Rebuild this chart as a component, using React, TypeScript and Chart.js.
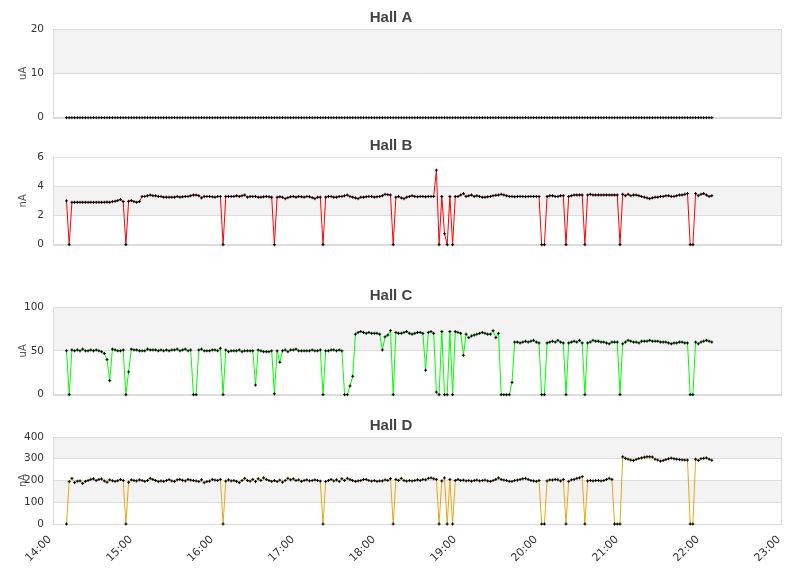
import { useEffect, useRef } from 'react'
import { Chart, registerables } from 'chart.js'

Chart.register(...registerables)
Chart.defaults.font.family = "'DejaVu Sans', sans-serif"

// x axis runs 14:00 → 23:00, samples every 2 min starting 14:10
const TIME_LABELS = ['14:00', '15:00', '16:00', '17:00', '18:00', '19:00', '20:00', '21:00', '22:00', '23:00']
const FIRST_SAMPLE_MIN = 10
const SAMPLE_STEP_MIN = 2

const HALL_A = [
  0, 0, 0, 0, 0, 0, 0, 0, 0, 0,
  0, 0, 0, 0, 0, 0, 0, 0, 0, 0,
  0, 0, 0, 0, 0, 0, 0, 0, 0, 0,
  0, 0, 0, 0, 0, 0, 0, 0, 0, 0,
  0, 0, 0, 0, 0, 0, 0, 0, 0, 0,
  0, 0, 0, 0, 0, 0, 0, 0, 0, 0,
  0, 0, 0, 0, 0, 0, 0, 0, 0, 0,
  0, 0, 0, 0, 0, 0, 0, 0, 0, 0,
  0, 0, 0, 0, 0, 0, 0, 0, 0, 0,
  0, 0, 0, 0, 0, 0, 0, 0, 0, 0,
  0, 0, 0, 0, 0, 0, 0, 0, 0, 0,
  0, 0, 0, 0, 0, 0, 0, 0, 0, 0,
  0, 0, 0, 0, 0, 0, 0, 0, 0, 0,
  0, 0, 0, 0, 0, 0, 0, 0, 0, 0,
  0, 0, 0, 0, 0, 0, 0, 0, 0, 0,
  0, 0, 0, 0, 0, 0, 0, 0, 0, 0,
  0, 0, 0, 0, 0, 0, 0, 0, 0, 0,
  0, 0, 0, 0, 0, 0, 0, 0, 0, 0,
  0, 0, 0, 0, 0, 0, 0, 0, 0, 0,
  0, 0, 0, 0, 0, 0, 0, 0, 0, 0,
  0, 0, 0, 0, 0, 0, 0, 0, 0, 0,
  0, 0, 0, 0, 0, 0, 0, 0, 0, 0,
  0, 0, 0, 0, 0, 0, 0, 0, 0, 0,
  0, 0, 0, 0, 0, 0, 0, 0, 0, 0,
]

const HALL_B = [
  3.0, 0, 2.9, 2.9, 2.9, 2.9, 2.9, 2.9, 2.9, 2.9,
  2.9, 2.9, 2.9, 2.9, 2.9, 2.92, 2.9, 2.95, 2.97, 3.02,
  3.1, 2.95, 0, 2.97, 3.02, 2.95, 2.9, 2.95, 3.3, 3.3,
  3.35, 3.4, 3.35, 3.35, 3.3, 3.3, 3.25, 3.25, 3.25, 3.25,
  3.25, 3.3, 3.25, 3.28, 3.3, 3.3, 3.35, 3.4, 3.4, 3.35,
  3.2, 3.3, 3.3, 3.3, 3.28, 3.25, 3.3, 3.3, 0, 3.3,
  3.3, 3.3, 3.3, 3.35, 3.3, 3.35, 3.4, 3.25, 3.3, 3.3,
  3.3, 3.25, 3.25, 3.28, 3.3, 3.28, 3.25, 0, 3.25, 3.28,
  3.25, 3.15, 3.22, 3.28, 3.3, 3.25, 3.3, 3.28, 3.25, 3.3,
  3.28, 3.22, 3.15, 3.25, 3.25, 0, 3.25, 3.3, 3.3, 3.25,
  3.25, 3.3, 3.3, 3.35, 3.4, 3.3, 3.25, 3.2, 3.15, 3.25,
  3.25, 3.28, 3.3, 3.3, 3.25, 3.28, 3.3, 3.35, 3.45, 3.42,
  3.4, 0, 3.25, 3.3, 3.2, 3.15, 3.25, 3.3, 3.35, 3.3,
  3.28, 3.3, 3.3, 3.28, 3.3, 3.3, 3.3, 5.1, 0, 3.3,
  0.75, 0, 3.3, 0, 3.3, 3.3, 3.4, 3.5, 3.3, 3.35,
  3.4, 3.3, 3.35, 3.3, 3.25, 3.25, 3.28, 3.3, 3.35, 3.38,
  3.4, 3.45, 3.4, 3.35, 3.3, 3.3, 3.28, 3.3, 3.3, 3.3,
  3.28, 3.3, 3.3, 3.3, 3.3, 3.3, 0, 0, 3.3, 3.35,
  3.35, 3.3, 3.3, 3.35, 3.35, 0, 3.3, 3.35, 3.4, 3.4,
  3.4, 3.4, 0, 3.4, 3.45, 3.4, 3.4, 3.4, 3.4, 3.4,
  3.4, 3.4, 3.4, 3.4, 3.4, 0, 3.45, 3.35, 3.45, 3.35,
  3.4, 3.4, 3.35, 3.3, 3.25, 3.2, 3.15, 3.2, 3.25, 3.25,
  3.3, 3.3, 3.35, 3.35, 3.3, 3.3, 3.35, 3.4, 3.4, 3.45,
  3.5, 0, 0, 3.5, 3.35, 3.45, 3.5, 3.4, 3.3, 3.35,
]

const HALL_C = [
  50, 0, 51, 50, 51, 50, 52, 50, 50, 51,
  50, 51, 50, 49, 47, 40, 16, 52, 51, 50,
  50, 51, 0, 26, 52, 51, 51, 50, 50, 50,
  52, 51, 51, 51, 50, 51, 50, 51, 50, 51,
  51, 52, 50, 51, 52, 50, 51, 0, 0, 51,
  52, 50, 50, 50, 51, 51, 50, 53, 0, 51,
  49, 50, 50, 50, 51, 49, 50, 50, 50, 50,
  11, 51, 50, 49, 49, 49, 50, 1, 50, 37,
  50, 51, 49, 51, 51, 52, 50, 50, 50, 50,
  50, 51, 50, 50, 51, 0, 50, 50, 51, 51,
  50, 51, 50, 0, 0, 10, 21, 69, 71, 72,
  71, 70, 71, 70, 70, 70, 69, 51, 66, 68,
  73, 0, 71, 70, 70, 71, 72, 70, 69, 70,
  71, 71, 70, 28, 71, 72, 70, 3, 0, 72,
  0, 0, 72, 0, 72, 71, 70, 45, 69, 65,
  67, 68, 69, 70, 71, 70, 69, 69, 73, 65,
  70, 0, 0, 0, 0, 14, 60, 60, 59, 60,
  61, 60, 61, 62, 60, 59, 0, 0, 59, 60,
  61, 60, 62, 60, 59, 0, 59, 60, 61, 60,
  62, 59, 0, 59, 60, 62, 61, 61, 60, 60,
  59, 58, 60, 60, 60, 0, 58, 60, 62, 61,
  60, 60, 59, 61, 61, 61, 62, 61, 61, 61,
  60, 60, 60, 59, 58, 59, 59, 60, 60, 59,
  59, 0, 0, 60, 58, 60, 61, 62, 61, 60,
]

const HALL_D = [
  0, 195, 210, 190, 197, 198, 186, 196, 200, 205,
  208, 200, 205, 207, 198, 192, 203, 199, 196, 199,
  205, 200, 0, 192, 203, 200, 198, 203, 200, 196,
  200, 210, 205, 200, 195, 198, 196, 200, 204, 198,
  196, 203, 205, 201, 198, 205, 202, 200, 198, 195,
  203, 190, 195, 197, 205, 202, 200, 205, 0, 197,
  203, 198, 200, 196, 190, 200, 210, 200, 197, 205,
  195, 208, 200, 212, 205, 200, 196, 200, 195, 202,
  192, 200, 210, 203, 208, 200, 203, 196, 200, 203,
  198, 200, 203, 200, 197, 0, 195, 200, 205, 198,
  203, 196, 208, 200, 210, 204, 200, 196, 198, 200,
  205, 205, 200, 197, 200, 196, 198, 198, 203, 200,
  208, 0, 205, 200, 210, 200, 197, 200, 198, 200,
  203, 200, 205, 203, 210, 212, 208, 205, 0, 198,
  212, 0, 205, 0, 200, 205, 200, 202, 198, 200,
  197, 200, 202, 198, 200, 202, 198, 196, 200, 205,
  212, 205, 202, 200, 196, 196, 200, 202, 205, 208,
  210, 205, 200, 198, 196, 200, 0, 0, 198, 203,
  202, 205, 203, 198, 205, 0, 196, 203, 205, 210,
  212, 218, 0, 198, 200, 198, 200, 200, 198, 200,
  205, 210, 205, 0, 0, 0, 309, 302, 298, 294,
  292, 297, 301, 304, 307, 309, 309, 308, 298, 294,
  289, 292, 296, 300, 303, 300, 298, 296, 295, 294,
  294, 0, 0, 298, 292, 300, 302, 304, 298, 293,
]

const SAMPLE_MINUTES = HALL_B.map((_, i) => FIRST_SAMPLE_MIN + i * SAMPLE_STEP_MIN)

const BAND = '#f3f3f3'
const RULE = '#dcdcdc'

// grey band on every second interval between y ticks, plus a box round the plot
const plotFrame = {
  id: 'plotFrame',
  beforeDraw(chart: any) {
    const { ctx, chartArea: a } = chart
    const y = chart.scales.y
    ctx.save()
    ctx.fillStyle = BAND
    y.ticks.forEach((t: any, k: number) => {
      if (k === 0 || k % 2 === 1) return
      const lo = y.getPixelForValue(y.ticks[k - 1].value)
      const hi = y.getPixelForValue(t.value)
      ctx.fillRect(a.left, hi, a.right - a.left, lo - hi)
    })
    ctx.restore()
  },
  beforeDatasetsDraw(chart: any) {
    const { ctx, chartArea: a } = chart
    ctx.save()
    ctx.strokeStyle = RULE
    ctx.lineWidth = 1
    ctx.strokeRect(Math.round(a.left) + 0.5, Math.round(a.top) + 0.5, Math.round(a.right - a.left) - 1, Math.round(a.bottom - a.top))
    ctx.restore()
  },
}

type PanelProps = {
  title: string
  unit: string
  values: number[]
  color: string
  yMax: number
  yStep: number
  top: number
  height: number
  padTop: number
  showTime?: boolean
}

function HallPanel({ title, unit, values, color, yMax, yStep, top, height, padTop, showTime }: PanelProps) {
  const canvasRef = useRef<HTMLCanvasElement>(null)

  useEffect(() => {
    if (!canvasRef.current) return
    const tickFont = { size: 10.5 }

    const chart = new Chart(canvasRef.current, {
      type: 'line',
      data: {
        datasets: [{
          label: title,
          data: values.map((v, i) => ({ x: SAMPLE_MINUTES[i], y: v })),
          borderColor: color,
          borderWidth: 1,
          pointStyle: 'cross',
          pointRadius: 1.5,
          pointBorderColor: '#000',
          pointBorderWidth: 1,
          pointHoverRadius: 0,
          tension: 0,
          fill: false,
          clip: 5,
        }],
      },
      options: {
        responsive: false,
        animation: false,
        events: [],
        layout: { padding: { top: padTop, right: 29, bottom: 0, left: 0 } },
        plugins: {
          legend: { display: false },
          tooltip: { enabled: false },
          title: {
            display: true,
            text: title,
            color: '#444',
            font: { family: "'Liberation Sans', Arial, sans-serif", size: 15, weight: 'bold' },
            padding: { top: 0, bottom: 2 },
          },
        },
        scales: {
          x: {
            type: 'linear',
            display: !!showTime,
            min: 0,
            max: (TIME_LABELS.length - 1) * 60,
            grid: { display: false },
            border: { display: false },
            ticks: {
              stepSize: 60,
              autoSkip: false,
              maxRotation: 45,
              minRotation: 45,
              padding: 1,
              labelOffset: -3,
              color: '#333',
              font: { size: 11 },
              callback: v => TIME_LABELS[Math.round(Number(v) / 60)] ?? '',
            },
            afterFit: (s: any) => { if (showTime) s.height = 54 },
          },
          y: {
            min: 0,
            max: yMax,
            grid: { color: RULE, drawTicks: false },
            border: { display: false },
            ticks: { stepSize: yStep, padding: 9, color: '#333', font: tickFont },
            title: { display: true, text: unit, color: '#555', font: { size: 10 }, padding: { top: 17, bottom: 0 } },
            afterFit: (s: any) => { s.width = 53 },
          },
        },
      },
      plugins: [plotFrame],
    })

    return () => chart.destroy()
  }, [])

  return (
    <canvas
      ref={canvasRef}
      width={811}
      height={height}
      style={{ position: 'absolute', left: 0, top, display: 'block' }}
    />
  )
}

export default function App() {
  return (
    <div style={{ position: 'absolute', left: 0, top: 0, width: 811, height: 578, background: '#fff', overflow: 'hidden' }}>
      <HallPanel title="Hall A" unit="uA" values={HALL_A} color="#dcdcdc" yMax={20} yStep={10} top={0} height={133} padTop={9} />
      <HallPanel title="Hall B" unit="nA" values={HALL_B} color="#ff0000" yMax={6} yStep={2} top={137} height={123} padTop={0} />
      <HallPanel title="Hall C" unit="uA" values={HALL_C} color="#00ff00" yMax={100} yStep={50} top={287} height={123} padTop={0} />
      <HallPanel title="Hall D" unit="nA" values={HALL_D} color="#e6a817" yMax={400} yStep={100} top={417} height={161} padTop={0} showTime />
    </div>
  )
}
